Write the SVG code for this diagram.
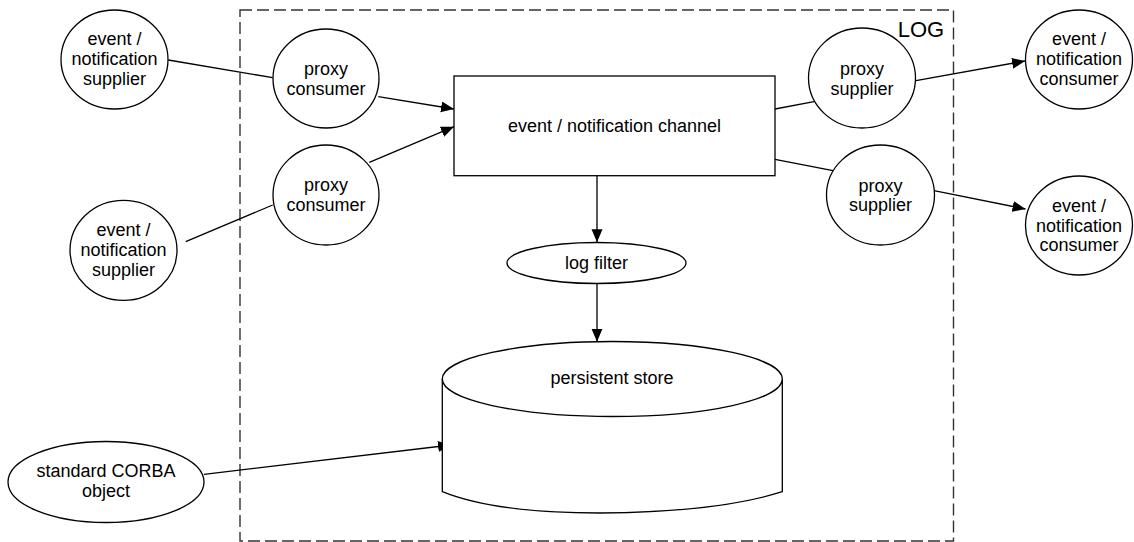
<svg xmlns="http://www.w3.org/2000/svg" width="1134" height="542" viewBox="0 0 1134 542">
<style>
.n{fill:#fff;stroke:#000;stroke-width:1.3}
.c{fill:none;stroke:#000;stroke-width:1.3}
.t{font-family:"Liberation Sans",Arial,sans-serif;font-size:18px;fill:#000;text-anchor:middle}
</style>
<defs>
<marker id="ah" markerUnits="userSpaceOnUse" markerWidth="14" markerHeight="12" refX="13" refY="5.5" orient="auto">
<path d="M0,0 L13,5.5 L0,11 Z" fill="#000"/>
</marker>
</defs>
<rect width="1134" height="542" fill="#fff"/>
<g id="log-boundary">
<rect x="240" y="10" width="713.5" height="531" fill="none" stroke="#333" stroke-width="1.4" stroke-dasharray="12,5"/>
<text x="921" y="36.5" style="font-family:'Liberation Sans',Arial,sans-serif;font-size:22px;fill:#000;text-anchor:middle">LOG</text>
</g>
<g id="connectors">
<line class="c" x1="168.3" y1="60" x2="272.7" y2="77.7"/>
<line class="c" x1="378.3" y1="96.7" x2="454" y2="109" marker-end="url(#ah)"/>
<line class="c" x1="185.7" y1="241.7" x2="272.7" y2="205"/>
<line class="c" x1="369.3" y1="162.3" x2="454" y2="126.7" marker-end="url(#ah)"/>
<line class="c" x1="775" y1="109" x2="814" y2="101.7"/>
<line class="c" x1="916" y1="80.7" x2="1025" y2="61" marker-end="url(#ah)"/>
<line class="c" x1="775" y1="159.3" x2="833" y2="170.7"/>
<line class="c" x1="934" y1="190.7" x2="1025.5" y2="209" marker-end="url(#ah)"/>
<line class="c" x1="597" y1="175.7" x2="597" y2="242.3" marker-end="url(#ah)"/>
<line class="c" x1="597" y1="283.3" x2="597" y2="341.7" marker-end="url(#ah)"/>
<line class="c" x1="204" y1="474.3" x2="451" y2="445" marker-end="url(#ah)"/>
</g>
<g id="supplier1">
<ellipse class="n" cx="114.5" cy="59.5" rx="53.5" ry="49.5"/>
<text class="t" x="114.5" y="45">event /</text>
<text class="t" x="114.5" y="65">notification</text>
<text class="t" x="114.5" y="85">supplier</text>
</g>
<g id="supplier2">
<ellipse class="n" cx="123.5" cy="250.3" rx="53.5" ry="50"/>
<text class="t" x="123.5" y="236">event /</text>
<text class="t" x="123.5" y="256">notification</text>
<text class="t" x="123.5" y="276">supplier</text>
</g>
<g id="proxy-consumer1">
<ellipse class="n" cx="326" cy="78.5" rx="53" ry="49.5"/>
<text class="t" x="326" y="75">proxy</text>
<text class="t" x="326" y="95">consumer</text>
</g>
<g id="proxy-consumer2">
<ellipse class="n" cx="326" cy="195" rx="53" ry="50"/>
<text class="t" x="326" y="191">proxy</text>
<text class="t" x="326" y="211">consumer</text>
</g>
<g id="channel">
<rect class="n" x="454" y="76" width="321" height="99.7"/>
<text class="t" x="614.5" y="132">event / notification channel</text>
</g>
<g id="proxy-supplier1">
<ellipse class="n" cx="862" cy="78" rx="53.5" ry="50"/>
<text class="t" x="862" y="75">proxy</text>
<text class="t" x="862" y="95">supplier</text>
</g>
<g id="proxy-supplier2">
<ellipse class="n" cx="880.5" cy="195" rx="54" ry="50"/>
<text class="t" x="880.5" y="192">proxy</text>
<text class="t" x="880.5" y="211">supplier</text>
</g>
<g id="consumer1">
<ellipse class="n" cx="1079" cy="59.5" rx="53.5" ry="49.5"/>
<text class="t" x="1079" y="45">event /</text>
<text class="t" x="1079" y="65">notification</text>
<text class="t" x="1079" y="85">consumer</text>
</g>
<g id="consumer2">
<ellipse class="n" cx="1079" cy="225.5" rx="53.5" ry="49.5"/>
<text class="t" x="1079" y="211.5">event /</text>
<text class="t" x="1079" y="231.5">notification</text>
<text class="t" x="1079" y="251">consumer</text>
</g>
<g id="log-filter">
<ellipse class="n" cx="596.5" cy="263" rx="89.5" ry="20.5"/>
<text class="t" x="596.5" y="269">log filter</text>
</g>
<g id="persistent-store">
<path class="n" d="M442.3,379 L442.3,491.7 C480,507 540,513 600,513 C680,512.5 740,505 782.3,491.7 L782.3,379"/>
<ellipse class="n" cx="612.3" cy="379" rx="170" ry="37.5"/>
<text class="t" x="612" y="384">persistent store</text>
</g>
<g id="corba-object">
<ellipse class="n" cx="106" cy="482" rx="98" ry="40.5"/>
<text class="t" x="106" y="477">standard CORBA</text>
<text class="t" x="106" y="497">object</text>
</g>
</svg>
